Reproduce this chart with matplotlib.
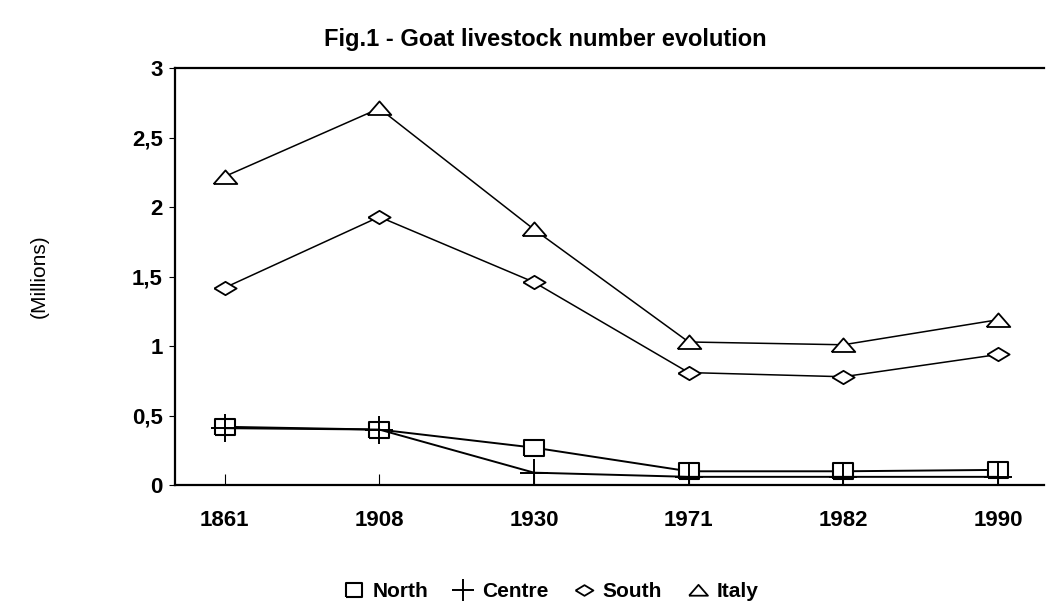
import matplotlib.pyplot as plt

plt.rcParams['font.family'] = ['Liberation Sans', 'DejaVu Sans']
plt.rcParams['font.weight'] = 'bold'

years = ["1861", "1908", "1930", "1971", "1982", "1990"]
north = [0.42, 0.40, 0.27, 0.10, 0.10, 0.11]
centre = [0.41, 0.40, 0.09, 0.06, 0.06, 0.06]
south = [1.42, 1.93, 1.46, 0.81, 0.78, 0.94]
italy = [2.22, 2.71, 1.84, 1.03, 1.01, 1.19]

yticks = [0, 0.5, 1, 1.5, 2, 2.5, 3]
ytick_labels = ["0", "0,5", "1", "1,5", "2", "2,5", "3"]

# flattened marker shapes like the scanned figure
rect = [(-1.25, -1), (1.25, -1), (1.25, 1), (-1.25, 1), (-1.25, -1)]
diam = [(-1, 0), (0, 0.6), (1, 0), (0, -0.6), (-1, 0)]
tri = [(-1, -0.55), (0, 0.6), (1, -0.55), (-1, -0.55)]

fig = plt.figure(figsize=(10.55, 6.08), dpi=100)
ax = fig.add_axes([0.166, 0.202, 0.824, 0.686])

x = range(len(years))
ax.plot(x, north, color="black", lw=1.4, marker=rect, ms=15, mfc="white", mec="black", mew=1.5, label="North")
ax.plot(x, centre, color="black", lw=1.4, marker="+", ms=20, mew=1.4, label="Centre")
ax.plot(x, south, color="black", lw=1.1, marker=diam, ms=16, mfc="white", mec="black", mew=1.3, label="South")
ax.plot(x, italy, color="black", lw=1.1, marker=tri, ms=17, mfc="white", mec="black", mew=1.3, label="Italy")

ax.set_xlim(-0.32, 5.3)
ax.set_ylim(0, 3)
ax.set_xticks(list(x))
ax.set_xticklabels(years, fontsize=16)
ax.set_yticks(yticks)
ax.set_yticklabels(ytick_labels, fontsize=16)
ax.tick_params(axis="x", direction="in", length=8, pad=18)
ax.tick_params(axis="y", direction="out", length=4, pad=5)
ax.spines["right"].set_visible(False)
for s in ["left", "bottom", "top"]:
    ax.spines[s].set_linewidth(1.6)

ax.set_ylabel("(Millions)", fontsize=15, labelpad=60)
fig.text(0.517, 0.925, "Fig.1 - Goat livestock number evolution", ha="center", fontsize=17)

leg = fig.legend(loc="center", bbox_to_anchor=(0.52, 0.027), ncol=4, frameon=False, fontsize=15,
                 handlelength=1.4, handletextpad=0.2, columnspacing=1.0, markerscale=0.8)
for h in leg.legend_handles:
    h.set_linestyle("none")

fig.savefig("out.png", dpi=100)
